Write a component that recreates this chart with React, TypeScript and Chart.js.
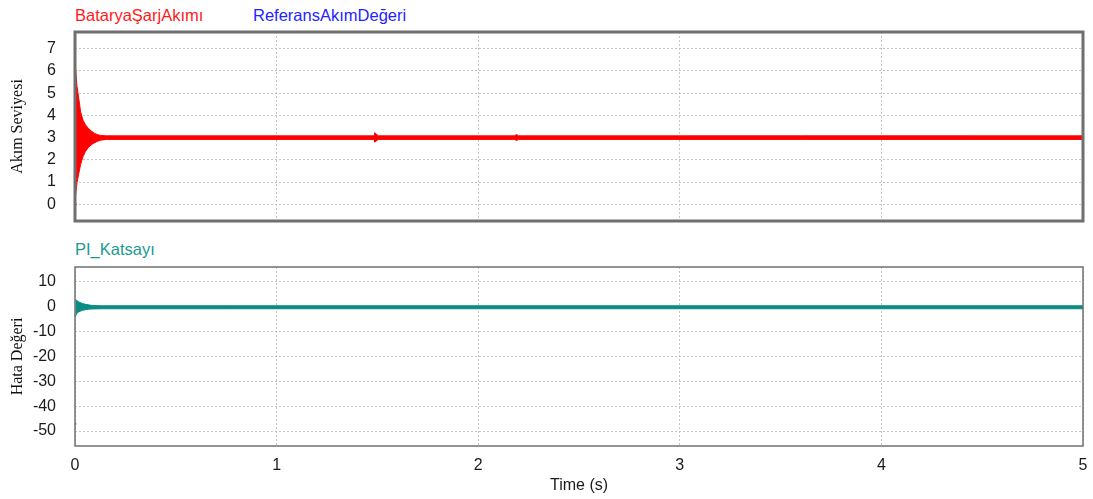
import React, { useEffect, useRef } from "react";
import { Chart, registerables } from "chart.js";

Chart.register(...registerables);

// ---- Data ----
const timeTicks = [0, 1, 2, 3, 4, 5];
const currentTicks = [0, 1, 2, 3, 4, 5, 6, 7];
const errorTicks = [-50, -40, -30, -20, -10, 0, 10];

// Battery charge current (BataryaŞarjAkımı): envelope of the fast oscillation
const currentTimes = [0.002, 0.01, 0.018, 0.028, 0.04, 0.052, 0.066, 0.08, 0.095, 0.11, 0.125, 0.155, 1.484, 1.486, 1.505, 2.18, 2.19, 2.2, 5];
const currentUpper = [6.17, 5.3, 4.8, 4.15, 3.78, 3.58, 3.42, 3.3, 3.2, 3.14, 3.1, 3.08, 3.08, 3.22, 3.08, 3.08, 3.14, 3.08, 3.08];
const currentLower = [0.33, 0.98, 1.35, 1.8, 2.15, 2.38, 2.55, 2.67, 2.76, 2.83, 2.88, 2.92, 2.92, 2.8, 2.92, 2.92, 2.87, 2.92, 2.92];

// Reference current (ReferansAkımDeğeri)
const referenceTimes = [0, 5];
const referenceValues = [3, 3];

// PI_Katsayı error signal envelope
const errorTimes = [0.002, 0.008, 0.016, 0.025, 0.038, 0.05, 0.065, 0.08, 0.1, 0.13, 5];
const errorUpper = [2.8, 2.6, 2.1, 1.7, 1.3, 1.0, 0.8, 0.6, 0.5, 0.4, 0.4];
const errorLower = [-4.0, -2.8, -2.2, -1.8, -1.4, -1.2, -1.0, -0.9, -0.85, -0.8, -0.8];

// Initial samples at t = 0
const initialTimes = [0];
const initialCurrent = [0];
const initialError = [-47];

const RED = "#ff0000";
const BLUE = "#1f1fff";
const TEAL = "#0a8c84";
const GRID = "#c4c4c4";

const pts = (xs: number[], ys: number[]) => xs.map((x, i) => ({ x, y: ys[i] }));

const framePlugin = {
  id: "frame",
  afterDraw(chart: any, _args: any, opts: any) {
    const { ctx, chartArea } = chart;
    const { left, top, right, bottom } = chartArea;
    ctx.save();
    ctx.strokeStyle = opts.color;
    ctx.lineWidth = opts.width;
    ctx.strokeRect(left, top, right - left, bottom - top);
    ctx.restore();
  },
};

const tickFont = { family: "'Liberation Sans', Arial, sans-serif", size: 16 };
const titleFont = { family: "'Liberation Serif', 'Times New Roman', serif", size: 16 };

const zeroPadding = (s: any) => {
  s.paddingLeft = 0;
  s.paddingRight = 0;
  s.paddingTop = 0;
  s.paddingBottom = 0;
};

function yScale(min: number, max: number, ticks: number[], title: string) {
  return {
    type: "linear",
    min,
    max,
    afterBuildTicks: (s: any) => {
      s.ticks = ticks.map((v) => ({ value: v }));
    },
    afterFit: (s: any) => {
      s.width = 75;
      zeroPadding(s);
    },
    ticks: { font: tickFont, color: "#1a1a1a", padding: 19 },
    grid: { color: GRID, lineWidth: 1, drawTicks: false },
    border: { display: false, dash: [2, 2] },
    title: { display: true, text: title, font: titleFont, color: "#111", padding: { top: 8, bottom: 0 } },
  };
}

function xScale(showLabels: boolean) {
  return {
    type: "linear",
    min: 0,
    max: 5,
    afterBuildTicks: (s: any) => {
      s.ticks = timeTicks.map((v) => ({ value: v }));
    },
    afterFit: (s: any) => {
      s.height = showLabels ? 53 : 0;
      zeroPadding(s);
    },
    ticks: { display: showLabels, font: tickFont, color: "#1a1a1a", padding: 10 },
    grid: { color: GRID, lineWidth: 1, drawTicks: false },
    border: { display: false, dash: [2, 2] },
    title: {
      display: showLabels,
      text: "Time (s)",
      font: tickFont,
      color: "#1a1a1a",
      padding: { top: 0, bottom: 4 },
    },
  };
}

export default function App() {
  const topRef = useRef<HTMLCanvasElement>(null);
  const botRef = useRef<HTMLCanvasElement>(null);

  useEffect(() => {
    const top = new Chart(topRef.current as HTMLCanvasElement, {
      type: "line",
      data: {
        datasets: [
          {
            data: pts(currentTimes, currentUpper),
            borderColor: RED,
            backgroundColor: RED,
            borderWidth: 1,
            pointRadius: 0,
            fill: false,
          },
          {
            data: pts(currentTimes, currentLower),
            borderColor: RED,
            backgroundColor: RED,
            borderWidth: 1,
            pointRadius: 0,
            fill: "-1",
          },
          {
            data: pts(initialTimes, initialCurrent),
            showLine: false,
            pointRadius: 1.5,
            pointBackgroundColor: RED,
            pointBorderWidth: 0,
          },
          {
            data: pts(referenceTimes, referenceValues),
            borderColor: BLUE,
            borderWidth: 1.5,
            pointRadius: 0,
            fill: false,
          },
        ],
      } as any,
      options: {
        responsive: false,
        animation: false,
        devicePixelRatio: 1,
        layout: { padding: { top: 32, bottom: 11, left: 0, right: 10 } },
        plugins: {
          legend: { display: false },
          tooltip: { enabled: false },
          frame: { color: "#6f6f6f", width: 3 },
        } as any,
        scales: {
          x: xScale(false),
          y: yScale(-0.75, 7.75, currentTicks, "Akım Seviyesi"),
        } as any,
      },
      plugins: [framePlugin],
    });

    const bot = new Chart(botRef.current as HTMLCanvasElement, {
      type: "line",
      data: {
        datasets: [
          {
            data: pts(errorTimes, errorUpper),
            borderColor: TEAL,
            backgroundColor: TEAL,
            borderWidth: 1,
            pointRadius: 0,
            fill: false,
          },
          {
            data: pts(errorTimes, errorLower),
            borderColor: TEAL,
            backgroundColor: TEAL,
            borderWidth: 1,
            pointRadius: 0,
            fill: "-1",
          },
          {
            data: pts(initialTimes, initialError),
            showLine: false,
            pointRadius: 1.5,
            pointBackgroundColor: "#3fb0a8",
            pointBorderWidth: 0,
          },
        ],
      } as any,
      options: {
        responsive: false,
        animation: false,
        devicePixelRatio: 1,
        layout: { padding: { top: 35, bottom: 0, left: 0, right: 10 } },
        plugins: {
          legend: { display: false },
          tooltip: { enabled: false },
          frame: { color: "#707070", width: 1.5 },
        } as any,
        scales: {
          x: xScale(true),
          y: yScale(-56, 16, errorTicks, "Hata Değeri"),
        } as any,
      },
      plugins: [framePlugin],
    });

    return () => {
      top.destroy();
      bot.destroy();
    };
  }, []);

  const label = (text: string, left: number, topPx: number, color: string) => (
    <span
      style={{
        position: "absolute",
        left,
        top: topPx,
        color,
        font: "16.5px 'Liberation Sans', Arial, sans-serif",
        lineHeight: "18px",
        whiteSpace: "nowrap",
      }}
    >
      {text}
    </span>
  );

  return (
    <div style={{ position: "fixed", left: 0, top: 0, width: 1093, height: 499, background: "#fff", overflow: "hidden" }}>
      {label("BataryaŞarjAkımı", 75, 6, "#ff1a1a")}
      {label("ReferansAkımDeğeri", 253, 6, "#2424ff")}
      {label("PI_Katsayı", 75, 240, "#1a9a90")}
      <canvas ref={topRef} width={1093} height={232} style={{ position: "absolute", left: 0, top: 0, width: 1093, height: 232 }} />
      <canvas ref={botRef} width={1093} height={267} style={{ position: "absolute", left: 0, top: 232, width: 1093, height: 267 }} />
    </div>
  );
}
